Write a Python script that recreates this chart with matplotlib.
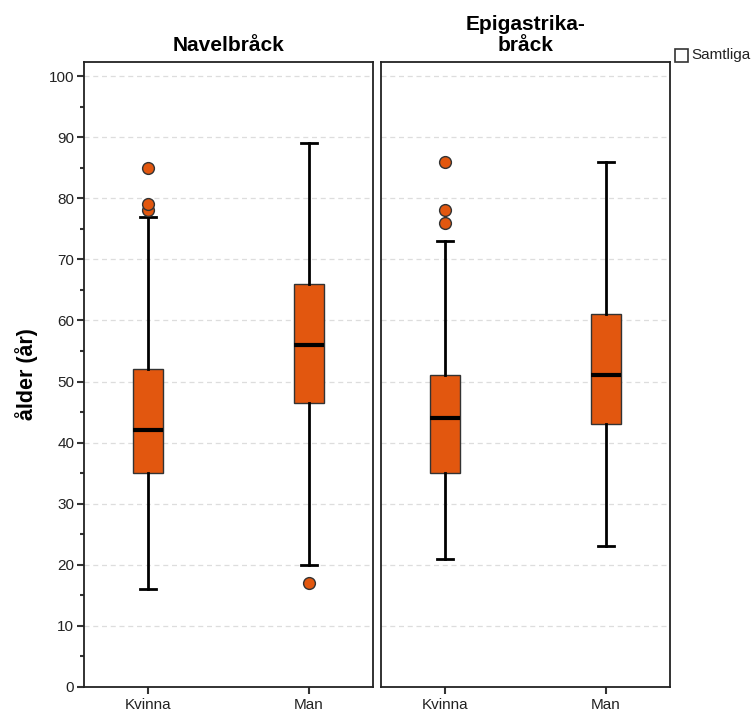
import matplotlib
matplotlib.use("Agg")
import matplotlib.pyplot as plt
from matplotlib.patches import Rectangle

plt.rcParams['font.family'] = ['Liberation Sans', 'DejaVu Sans']

panels = ["Navelbråck", "Epigastrika-\nbråck"]
categories = ["Kvinna", "Man"]
# per panel, per category: whislo, q1, med, q3, whishi, outliers
whislo = [[16, 20], [21, 23]]
q1 = [[35, 46.5], [35, 43]]
med = [[42, 56], [44, 51]]
q3 = [[52, 66], [51, 61]]
whishi = [[77, 89], [73, 86]]
fliers = [[[78, 79, 85], [17]], [[76, 78, 86], []]]
yticks = [0, 10, 20, 30, 40, 50, 60, 70, 80, 90, 100]

box_color = "#E2570F"

fig = plt.figure(figsize=(7.52, 7.15), dpi=100)
W, H = 752, 715
ax_left_px = [84, 381]
ax_w_px = 289
ax_bottom = (H - 687) / H
ax_h = (687 - 62) / H

axes = []
for p in range(2):
    ax = fig.add_axes([ax_left_px[p] / W, ax_bottom, ax_w_px / W, ax_h])
    axes.append(ax)
    stats = []
    for c in range(2):
        stats.append(dict(whislo=whislo[p][c], q1=q1[p][c], med=med[p][c],
                          q3=q3[p][c], whishi=whishi[p][c], fliers=fliers[p][c]))
    ax.bxp(stats, positions=[1, 2], widths=0.185, patch_artist=True,
           boxprops=dict(facecolor=box_color, edgecolor="#333333", linewidth=1.0),
           medianprops=dict(color="black", linewidth=3),
           whiskerprops=dict(color="black", linewidth=2),
           capprops=dict(color="black", linewidth=2),
           capwidths=0.1,
           flierprops=dict(marker="o", markerfacecolor=box_color,
                           markeredgecolor="#333333", markersize=8.5, markeredgewidth=1.0),
           zorder=3)
    ax.set_xlim(0.6, 2.4)
    ax.set_ylim(0, 102.3)
    ax.set_yticks(yticks)
    ax.set_yticks([5 + 10 * i for i in range(10)], minor=True)
    ax.yaxis.grid(True, linestyle=(0, (4, 3)), color="#dddddd", linewidth=0.9)
    ax.set_axisbelow(True)
    ax.set_xticks([1, 2])
    ax.set_xticklabels(categories, fontsize=11, color="#222222")
    ax.tick_params(axis="x", length=5, width=1.5, color="#333333", pad=3)
    for s in ax.spines.values():
        s.set_linewidth(1.3)
        s.set_color("#222222")
    ax.set_title(panels[p], fontsize=15, fontweight="bold", pad=8, linespacing=1.1)
    if p == 0:
        ax.set_yticklabels([str(v) for v in yticks], fontsize=11, color="#222222")
        ax.tick_params(axis="y", which="major", length=5, width=1.5, color="#333333", pad=2)
        ax.tick_params(axis="y", which="minor", length=3, width=1.5, color="#333333")
        ax.set_ylabel("ålder (år)", fontsize=15.5, fontweight="bold", labelpad=8)
    else:
        ax.tick_params(axis="y", which="both", left=False, labelleft=False)

# legend
fig.patches.append(Rectangle((675 / W, (H - 62) / H), 13 / W, 13 / H,
                             transform=fig.transFigure, facecolor="white",
                             edgecolor="#333333", linewidth=1.2))
fig.text(691 / W, (H - 55.5) / H, "Samtliga", fontsize=11, va="center",
         ha="left", color="#222222")

fig.savefig("out.png", dpi=100)
